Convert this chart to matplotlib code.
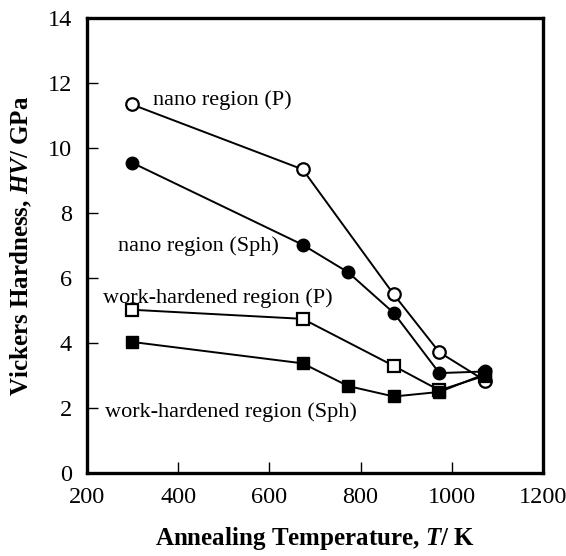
import matplotlib
matplotlib.use('Agg')
import matplotlib.pyplot as plt

plt.rcParams['font.family'] = 'Liberation Serif'
plt.rcParams['mathtext.fontset'] = 'custom'
plt.rcParams['mathtext.rm'] = 'Liberation Serif'
plt.rcParams['mathtext.it'] = 'Liberation Serif:italic'
plt.rcParams['mathtext.bf'] = 'Liberation Serif:bold'
plt.rcParams['mathtext.bfit'] = 'Liberation Serif:italic:bold'

# data
temp_p = [298, 673, 873, 973, 1073]
nano_p = [11.35, 9.35, 5.5, 3.72, 2.85]
work_p = [5.03, 4.75, 3.3, 2.55, 3.0]

temp_sph = [298, 673, 773, 873, 973, 1073]
nano_sph = [9.56, 7.03, 6.18, 4.93, 3.08, 3.13]
work_sph = [4.04, 3.38, 2.68, 2.36, 2.5, 3.05]

fig = plt.figure(figsize=(5.66, 5.56), dpi=100)
ax = fig.add_axes([0.154, 0.149, 0.805, 0.818])

# open symbols first so the filled ones sit on top where they overlap
ax.plot(temp_p, nano_p, '-o', color='black', mfc='white', ms=9, mew=1.6, lw=1.4)
ax.plot(temp_p, work_p, '-s', color='black', mfc='white', ms=9, mew=1.6, lw=1.4)
ax.plot(temp_sph, work_sph, '-s', color='black', mfc='black', ms=9, lw=1.4)
ax.plot(temp_sph, nano_sph, '-o', color='black', mfc='black', ms=9, lw=1.4)

ax.text(345, 11.48, 'nano region (P)', fontsize=16, va='center')
ax.text(268, 7.0, 'nano region (Sph)', fontsize=16, va='center')
ax.text(235, 5.38, 'work-hardened region (P)', fontsize=16, va='center')
ax.text(240, 1.88, 'work-hardened region (Sph)', fontsize=16, va='center')

ax.set_xlim(200, 1200)
ax.set_ylim(0, 14)
ax.set_xticks([200, 400, 600, 800, 1000, 1200])
ax.set_yticks([0, 2, 4, 6, 8, 10, 12, 14])
ax.tick_params(direction='in', length=8, width=1, labelsize=17.5)
ax.tick_params(axis='y', pad=11)
ax.tick_params(axis='x', pad=10)
for s in ax.spines.values():
    s.set_linewidth(2.4)

ax.set_xlabel(r'Annealing Temperature, $\mathbfit{T}$/ K', fontsize=18, fontweight='bold', labelpad=12)
ax.set_ylabel(r'Vickers Hardness, $\mathbfit{HV}$/ GPa', fontsize=18, fontweight='bold', labelpad=10)

fig.savefig('out.png', dpi=100)
